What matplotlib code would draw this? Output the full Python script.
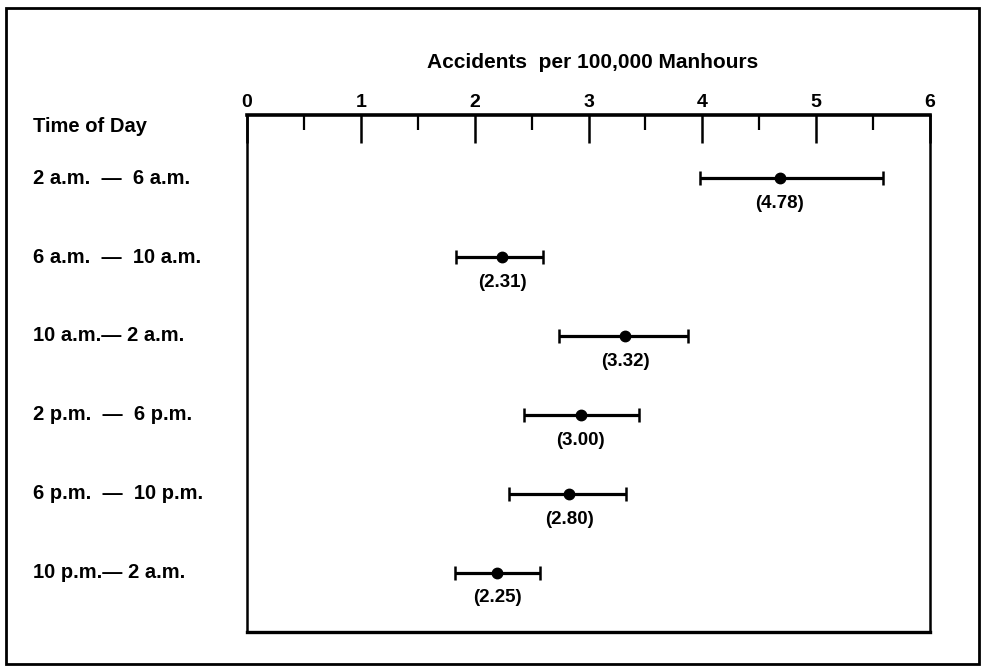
"""
Accident rate by time of day, point estimates with interval bars.
"""

import matplotlib
matplotlib.use("Agg")
import matplotlib.pyplot as plt
from matplotlib.patches import Rectangle
from matplotlib.transforms import blended_transform_factory

# ───────────────────────────────
# Data
# ───────────────────────────────
periods = [
    "2 a.m.  —  6 a.m.",
    "6 a.m.  —  10 a.m.",
    "10 a.m.— 2 a.m.",
    "2 p.m.  —  6 p.m.",
    "6 p.m.  —  10 p.m.",
    "10 p.m.— 2 a.m.",
]
rate = [4.68, 2.24, 3.32, 2.93, 2.83, 2.20]
low = [3.98, 1.84, 2.74, 2.43, 2.30, 1.83]
high = [5.59, 2.60, 3.87, 3.44, 3.33, 2.57]
rate_labels = ["(4.78)", "(2.31)", "(3.32)", "(3.00)", "(2.80)", "(2.25)"]
x_ticks = [0, 1, 2, 3, 4, 5, 6]

plt.rcParams["font.family"] = ["Liberation Sans", "DejaVu Sans"]
plt.rcParams["font.weight"] = "bold"

# ───────────────────────────────
# Figure
# ───────────────────────────────
fig = plt.figure(figsize=(9.83, 6.70), dpi=100)
ax = fig.add_axes([0.2513, 0.0567, 0.6948, 0.7717])

ypos = list(range(len(periods)))
for y, r, lo, hi, lab in zip(ypos, rate, low, high, rate_labels):
    ax.errorbar(r, y, xerr=[[r - lo], [hi - r]], fmt="o", color="black",
                ms=7.5, lw=2.3, capsize=5, capthick=1.8)
    ax.annotate(lab, (r, y), xytext=(0, -12), textcoords="offset points",
                ha="center", va="top", fontsize=13.5, fontweight="bold")

ax.set_xlim(0, 6)
ax.set_ylim(5.75, -0.8)

# ticks on top, pointing into the box
ax.xaxis.tick_top()
ax.set_xticks(x_ticks)
ax.set_xticks([0.5 + i for i in range(6)], minor=True)
ax.set_xticklabels([str(t) for t in x_ticks], fontsize=14, fontweight="bold")
ax.tick_params(axis="x", which="major", direction="in", length=20, width=1.8, pad=3)
ax.tick_params(axis="x", which="minor", direction="in", length=11, width=1.6)
ax.set_yticks([])
for side, s in ax.spines.items():
    s.set_linewidth(1.8)
ax.spines["top"].set_linewidth(2.6)
ax.spines["bottom"].set_linewidth(2.4)

# row labels in the left margin
row_tf = blended_transform_factory(fig.transFigure, ax.transData)
for y, p in zip(ypos, periods):
    ax.text(33 / 983, y, p, transform=row_tf, ha="left", va="center",
            fontsize=14.5, fontweight="bold")

fig.text(33 / 983, 1 - 127 / 670, "Time of Day", ha="left", va="center",
         fontsize=14.5, fontweight="heavy")
fig.text(593 / 983, 1 - 62 / 670, "Accidents  per 100,000 Manhours",
         ha="center", va="center", fontsize=15, fontweight="heavy")

# outer frame
fig.patches.append(Rectangle((6 / 983, 6 / 670), 973 / 983, 656 / 670,
                             transform=fig.transFigure, fill=False,
                             lw=2.0, ec="black"))

fig.savefig("out.png", dpi=100)
